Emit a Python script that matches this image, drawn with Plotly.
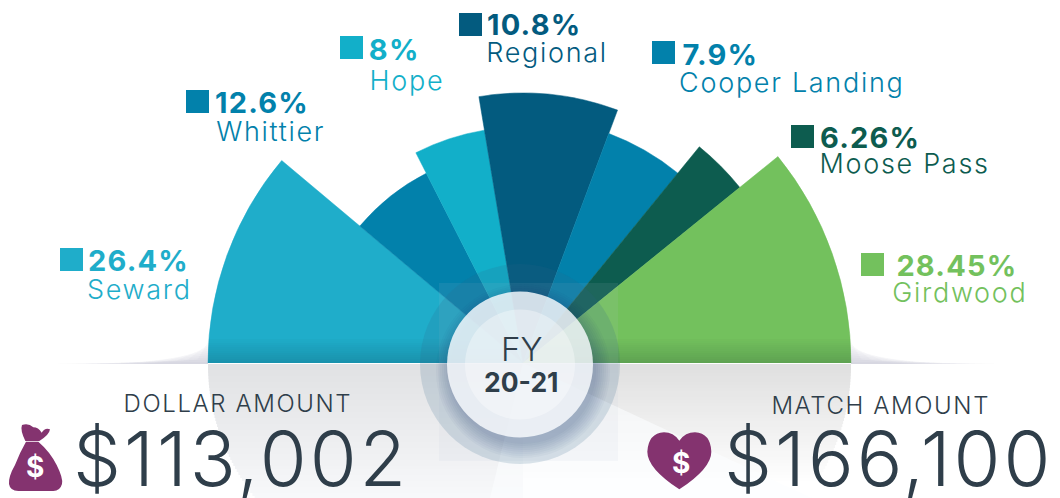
import re
import plotly.graph_objects as go

W, H = 1060, 498

categories = ["Seward", "Whittier", "Hope", "Regional", "Cooper Landing", "Moose Pass", "Girdwood"]
percent_labels = ["26.4%", "12.6%", "8%", "10.8%", "7.9%", "6.26%", "28.45%"]
radii = [315, 213, 236, 270, 245, 279, 328]
start_angles = [0, 40, 63, 80.6, 110.5, 129.2, 141]
end_angles = [40, 63, 80.6, 110.5, 129.2, 141, 180]
colors = ["#1FADCA", "#0281AB", "#12AFC9", "#035B7F", "#0281AB", "#0D5C4F", "#73C15D"]
dollar_title, dollar_value = "DOLLAR AMOUNT", "$113,002"
match_title, match_value = "MATCH AMOUNT", "$166,100"

CX, CY, RMAX = 523, 363, 340
FONT = "Inter"
DARK = "#2F3E4A"
PURPLE = "#84336F"
SPACING = {27: 1.7, 29: 1.2, 24: 1.6, 76: 3.0}


def xp(x):
    return x / W


def yp(y):
    return 1 - y / H


def rect(x0, y0, x1, y1, fill, layer="above"):
    return dict(type="rect", xref="paper", yref="paper", x0=xp(x0), x1=xp(x1), y0=yp(y0), y1=yp(y1),
                fillcolor=fill, line=dict(width=0), layer=layer)


def circle(cx, cy, r, fill):
    return dict(type="circle", xref="paper", yref="paper", x0=xp(cx - r), x1=xp(cx + r), y0=yp(cy - r), y1=yp(cy + r),
                fillcolor=fill, line=dict(width=0), layer="above")


def poly(pts, fill, layer="above"):
    d = "M " + " L ".join(f"{xp(x):.5f} {yp(y):.5f}" for x, y in pts) + " Z"
    return dict(type="path", xref="paper", yref="paper", path=d, fillcolor=fill, line=dict(width=0), layer=layer)


def zoom_path(d, ox, oy, fill):
    toks = re.findall(r"[A-Za-z]|-?\d+\.?\d*", d)
    out, isx = [], True
    for t in toks:
        if t.isalpha():
            out.append(t)
        else:
            v = float(t)
            if isx:
                out.append(f"{xp(ox + v / 3):.5f}")
            else:
                out.append(f"{yp(oy + v / 3):.5f}")
            isx = not isx
    return dict(type="path", xref="paper", yref="paper", path=" ".join(out), fillcolor=fill,
                line=dict(width=0), layer="above")


shapes = []

# reflection below the horizon
for y in range(364, 498, 3):
    dy = (y - 364) * 1.25
    t = (y - 364) / 134
    xl = CX - (315 ** 2 - dy ** 2) ** 0.5
    xr = CX + (328 ** 2 - dy ** 2) ** 0.5
    gl = int(225 + (248 - 225) * t)
    gr = int(224 + (255 - 224) * min(1, t * 1.15))
    shapes.append(rect(xl, y, CX, y + 3, f"rgb({gl},{gl + 1},{gl + 3})", "below"))
    shapes.append(rect(CX, y, xr, y + 3, f"rgb({gr},{gr},{gr})", "below"))
shapes.append(poly([(CX, CY), (812, 498), (490, 498)], "rgba(252,254,255,0.6)", "below"))

# soft horizon shadow outside the fan
for i in range(1, 11):
    h = 2.2 * i
    shapes.append(poly([(208, 364), (208, 364 - h), (208 - 19 * (11 - i) * 0.55, 364 - h * 0.2), (20 + 12 * i, 364)],
                       "rgba(70,70,110,0.018)", "below"))
    shapes.append(poly([(851, 364), (851, 364 - h), (851 + 19 * (11 - i) * 0.55, 364 - h * 0.2), (1030 - 12 * i, 364)],
                       "rgba(70,70,110,0.018)", "below"))

# darkening at the foot of the fan
n = 12
for i in range(n):
    y0 = 339 + i * 2
    shapes.append(rect(208, y0, 851, y0 + 2, f"rgba(0,20,30,{0.17 * (i + 1) / n:.3f})"))

# centre decoration
shapes.append(rect(439, 283, 618, 461, "rgba(190,200,215,0.1)"))
shapes.append(circle(520, 364, 100, "rgba(50,100,135,0.17)"))
for r in range(87, 71, -2):
    shapes.append(circle(523, 371, r, "rgba(40,60,110,0.035)"))
shapes.append(circle(520, 364.5, 73, "rgba(250,252,255,0.82)"))
shapes.append(circle(520, 364.5, 55, "rgba(255,255,255,0.35)"))

# legend squares
squares = [(60, 248), (186, 90), (340, 36), (459, 13), (652, 41), (791, 125), (861, 253)]
for (sx, sy), c in zip(squares, colors):
    shapes.append(rect(sx, sy, sx + 23, sy + 23, c))

# icons
shapes.append(zoom_path("M 78 305 L 115 305 Q 150 335 170 375 Q 190 415 186 432 Q 180 453 160 453 L 55 453 Q 30 452 27 432 Q 25 410 45 375 Q 58 340 78 305 Z", 0, 340, PURPLE))
shapes.append(zoom_path("M 76 303 Q 60 270 66 255 Q 85 248 100 262 Q 115 262 125 278 Q 135 262 150 268 Q 148 285 118 303 Z", 0, 340, PURPLE))
shapes.append(zoom_path("M 118 448 Q 22 385 22 335 Q 25 280 72 277 Q 100 277 118 302 Q 136 277 165 277 Q 212 280 214 335 Q 214 385 118 448 Z", 640, 340, PURPLE))


def text(x, y, s, size, color, weight=400, anchor="left"):
    if anchor == "left":
        x += SPACING.get(size, 0) * len(s) / 2
    return dict(xref="paper", yref="paper", x=xp(x), y=yp(y), text=s, showarrow=False, xanchor=anchor, yanchor="middle",
                borderpad=0, font=dict(family=FONT, size=size, color=color, weight=weight))


pct_pos = [(87, 260), (214, 102), (368, 49), (486, 24), (682, 54), (819, 137), (895, 265)]
name_pos = [(86, 289), (215, 132), (369, 80), (485, 53), (678, 83), (818, 163), (891, 292)]
annotations = []
for p, (px, py), nm, (nx, ny), c in zip(percent_labels, pct_pos, categories, name_pos, colors):
    annotations.append(text(px, py, p, 29, c, 700))
    annotations.append(text(nx, ny, nm, 27, c, 300))

annotations += [
    text(521, 349, "FY", 33, DARK, 300, "center"),
    text(521, 382, "20-21", 26.5, DARK, 700, "center"),
    text(238, 403, dollar_title, 24, DARK, 300, "center"),
    text(880, 405, match_title, 24, DARK, 300, "center"),
    text(241, 458, dollar_value, 76, DARK, 300, "center"),
    text(888, 458, match_value, 76, DARK, 300, "center"),
    text(35, 467, "$", 28, "white", 700, "center"),
    text(681, 463, "$", 28, "white", 700, "center"),
]

thetas = [(a + b) / 2 for a, b in zip(start_angles, end_angles)]
widths = [b - a for a, b in zip(start_angles, end_angles)]

fig = go.Figure(go.Barpolar(r=radii, theta=thetas, width=widths, text=categories,
                            marker=dict(color=colors, line=dict(width=0.5, color=colors)), hoverinfo="text"))
fig.update_layout(
    width=W, height=H, margin=dict(l=0, r=0, t=0, b=0), showlegend=False,
    paper_bgcolor="white", shapes=shapes, annotations=annotations,
    polar=dict(
        domain=dict(x=[(CX - RMAX) / W, (CX + RMAX) / W], y=[(H - CY) / H, (H - CY + RMAX) / H]),
        sector=[0, 180], bgcolor="rgba(0,0,0,0)", barmode="overlay",
        radialaxis=dict(visible=False, range=[0, RMAX]),
        angularaxis=dict(visible=False, direction="clockwise", rotation=180),
    ),
)
post = """
document.body.style.margin='0';document.body.style.overflow='hidden';
var sp=%s;
document.querySelectorAll('.annotation-text').forEach(function(t){
  var f=Math.round(parseFloat(t.style.fontSize)*10)/10;
  if(sp[f]){t.style.letterSpacing=sp[f]+'px';}
});
""" % ({k: v for k, v in SPACING.items()})
fig.write_html("out.html", post_script=post, config={"displayModeBar": False})
